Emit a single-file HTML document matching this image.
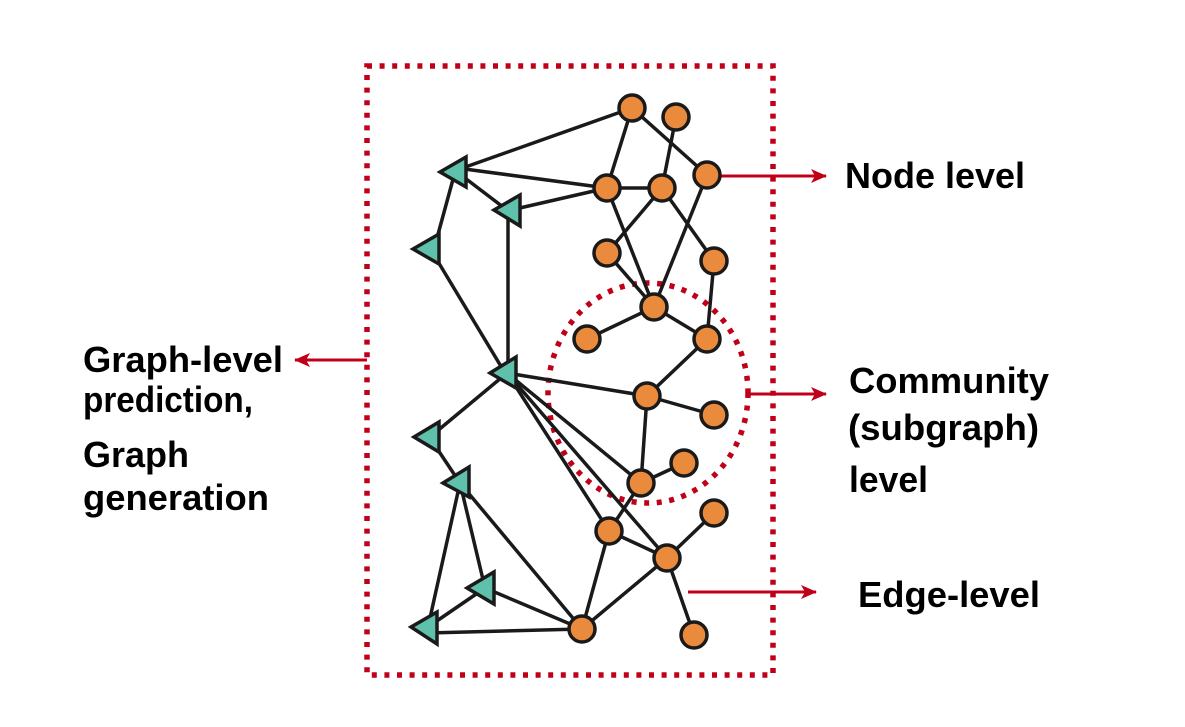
<!DOCTYPE html>
<html><head><meta charset="utf-8"><style>html,body{margin:0;padding:0;background:#fff;}svg{display:block}</style></head>
<body>
<svg width="1185" height="727" viewBox="0 0 1185 727" xmlns="http://www.w3.org/2000/svg">
<defs>
<marker id="ah" markerWidth="16" markerHeight="14" refX="15" refY="7" orient="auto" markerUnits="userSpaceOnUse">
<path d="M0,0 L16,7 L0,14 L4,7 Z" fill="#c00018"/>
</marker>
</defs>
<rect x="367" y="66" width="406" height="609" fill="none" stroke="#c00018" stroke-width="5.5" stroke-dasharray="5 7.6"/>
<ellipse cx="648" cy="393" rx="100" ry="110" fill="none" stroke="#c00018" stroke-width="5.5" stroke-dasharray="5 7.6"/>
<g stroke="#c00018" stroke-width="3" fill="none">
<line x1="720" y1="176" x2="826" y2="176" marker-end="url(#ah)"/>
<line x1="748" y1="394" x2="826" y2="394" marker-end="url(#ah)"/>
<line x1="688" y1="592" x2="816" y2="592" marker-end="url(#ah)"/>
<line x1="367" y1="360" x2="295" y2="360" marker-end="url(#ah)"/>
</g>
<g stroke="#1a1a1a" stroke-width="3.5" fill="none">
<line x1="457" y1="170" x2="632" y2="108"/>
<line x1="632" y1="108" x2="607" y2="188"/>
<line x1="632" y1="108" x2="707" y2="175"/>
<line x1="676" y1="117" x2="662" y2="188"/>
<line x1="607" y1="188" x2="662" y2="188"/>
<line x1="607" y1="188" x2="457" y2="168"/>
<line x1="607" y1="188" x2="511" y2="210"/>
<line x1="607" y1="188" x2="654" y2="307"/>
<line x1="662" y1="188" x2="607" y2="253"/>
<line x1="662" y1="188" x2="714" y2="261"/>
<line x1="707" y1="175" x2="654" y2="307"/>
<line x1="607" y1="253" x2="654" y2="307"/>
<line x1="714" y1="261" x2="707" y2="339"/>
<line x1="654" y1="307" x2="587" y2="339"/>
<line x1="654" y1="307" x2="707" y2="339"/>
<line x1="707" y1="339" x2="647" y2="396"/>
<line x1="647" y1="396" x2="714" y2="415"/>
<line x1="647" y1="396" x2="641" y2="483"/>
<line x1="641" y1="483" x2="684" y2="463"/>
<line x1="641" y1="483" x2="609" y2="531"/>
<line x1="609" y1="531" x2="667" y2="558"/>
<line x1="609" y1="531" x2="582" y2="629"/>
<line x1="667" y1="558" x2="714" y2="513"/>
<line x1="667" y1="558" x2="582" y2="629"/>
<line x1="667" y1="558" x2="694" y2="635"/>
<line x1="457" y1="172" x2="507" y2="210"/>
<line x1="455" y1="172" x2="434" y2="249"/>
<line x1="434" y1="255" x2="505" y2="373"/>
<line x1="508" y1="210" x2="508" y2="373"/>
<line x1="507" y1="373" x2="647" y2="396"/>
<line x1="507" y1="373" x2="641" y2="483"/>
<line x1="507" y1="373" x2="609" y2="531"/>
<line x1="507" y1="373" x2="667" y2="558"/>
<line x1="507" y1="373" x2="430" y2="437"/>
<line x1="436" y1="447" x2="460" y2="483"/>
<line x1="460" y1="483" x2="428" y2="627"/>
<line x1="460" y1="483" x2="485" y2="588"/>
<line x1="460" y1="483" x2="582" y2="629"/>
<line x1="485" y1="588" x2="428" y2="627"/>
<line x1="485" y1="588" x2="582" y2="629"/>
<line x1="428" y1="633" x2="582" y2="629"/>
</g>
<g fill="#5fc0ac" stroke="#1a1a1a" stroke-width="3.5" stroke-linejoin="miter">
<polygon points="440,172 466,157 466,187"/>
<polygon points="494,210 520,195 520,226"/>
<polygon points="413,249 439,234 439,264"/>
<polygon points="490,373 516,357 516,388"/>
<polygon points="414,437 439,422 439,452"/>
<polygon points="443,483 469,467 469,497"/>
<polygon points="467,588 494,572 494,604"/>
<polygon points="411,627 437,612 437,644"/>
</g>
<g fill="#ea8a3d" stroke="#1a1a1a" stroke-width="3.5">
<circle cx="632" cy="108" r="13"/>
<circle cx="676" cy="117" r="13"/>
<circle cx="707" cy="175" r="13"/>
<circle cx="607" cy="188" r="13"/>
<circle cx="662" cy="188" r="13"/>
<circle cx="607" cy="253" r="13"/>
<circle cx="714" cy="261" r="13"/>
<circle cx="654" cy="307" r="13"/>
<circle cx="587" cy="339" r="13"/>
<circle cx="707" cy="339" r="13"/>
<circle cx="647" cy="396" r="13"/>
<circle cx="714" cy="415" r="13"/>
<circle cx="641" cy="483" r="13"/>
<circle cx="684" cy="463" r="13"/>
<circle cx="609" cy="531" r="13"/>
<circle cx="714" cy="513" r="13"/>
<circle cx="667" cy="558" r="13"/>
<circle cx="582" cy="629" r="13"/>
<circle cx="694" cy="635" r="13"/>
</g>
<g font-family="Liberation Sans, Arial, sans-serif" font-weight="bold" font-size="36" fill="#000">
<text x="83" y="372" textLength="200" lengthAdjust="spacingAndGlyphs">Graph-level</text>
<text x="83" y="412" textLength="170" lengthAdjust="spacingAndGlyphs">prediction,</text>
<text x="83" y="467" textLength="106" lengthAdjust="spacingAndGlyphs">Graph</text>
<text x="83" y="510" textLength="186" lengthAdjust="spacingAndGlyphs">generation</text>
<text x="845" y="188" textLength="180" lengthAdjust="spacingAndGlyphs">Node level</text>
<text x="849" y="393" textLength="200" lengthAdjust="spacingAndGlyphs">Community</text>
<text x="848" y="440" textLength="191" lengthAdjust="spacingAndGlyphs">(subgraph)</text>
<text x="849" y="492" textLength="79" lengthAdjust="spacingAndGlyphs">level</text>
<text x="858" y="607" textLength="182" lengthAdjust="spacingAndGlyphs">Edge-level</text>
</g>
</svg>
</body></html>
